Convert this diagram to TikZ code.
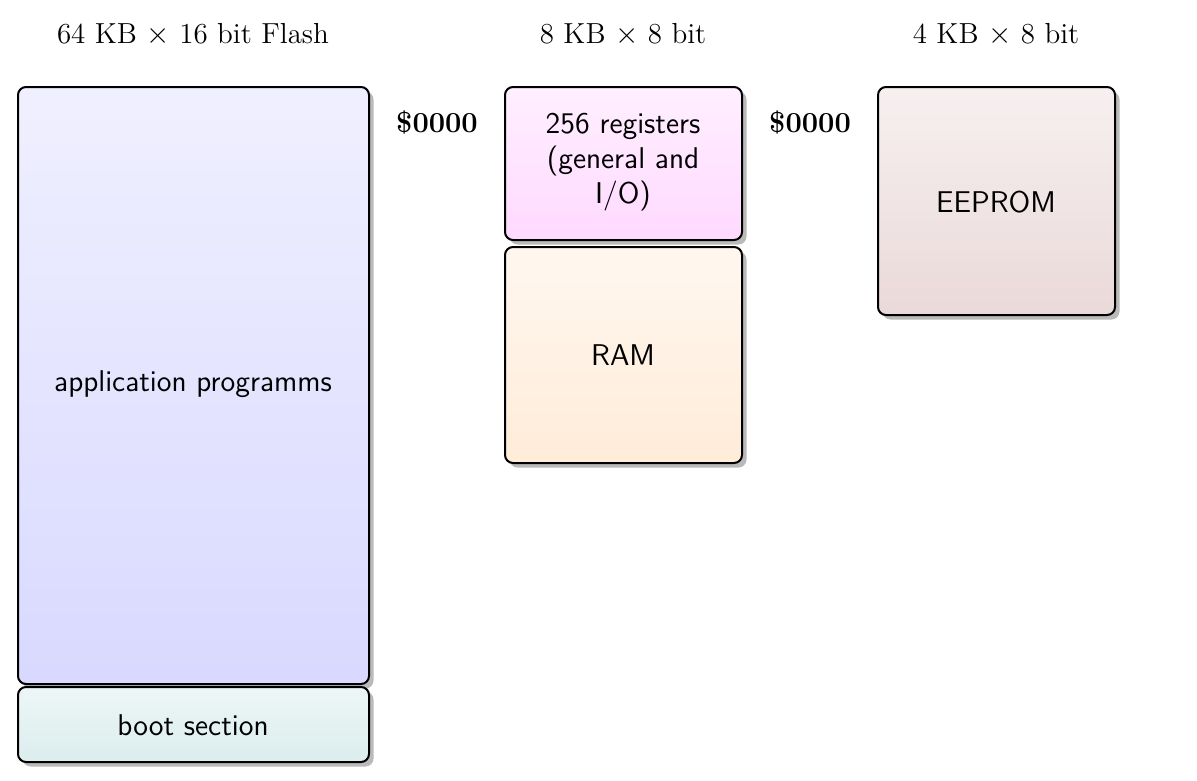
\documentclass[tikz,border=0pt]{standalone}
\usetikzlibrary{shadows}
\definecolor{eetop}{RGB}{247,240,240}
\definecolor{eebot}{RGB}{234,217,217}
\begin{document}
\begin{tikzpicture}[x=0.4pt,y=-0.4pt,
  mem/.style={draw=black, line width=0.8pt, rounded corners=3.2pt,
    drop shadow={shadow xshift=1.8pt, shadow yshift=-1.8pt, fill=black!27, opacity=1}},
  title/.style={font=\fontsize{11.6}{14}\selectfont\rmfamily},
  txt/.style={font=\fontsize{12}{14}\selectfont\sffamily},
  addr/.style={font=\fontsize{11.6}{14}\selectfont\bfseries}]
\useasboundingbox (0,0) rectangle (1197,780);
% Flash
\node[title] (t1) at (193,35) {64 KB $\times$ 16 bit Flash};
\path[mem, top color=blue!6, bottom color=blue!15] (18,87) rectangle (369,684);
\node[txt] (app) at (193,384) {application programms};
\path[mem, top color=teal!7, bottom color=teal!14] (18,687) rectangle (369,762);
\node[txt] (boot) at (193,725) {boot section};
% RAM
\node[title] (t2) at (623,35) {8 KB $\times$ 8 bit};
\node[addr] (a1) at (437,122) {\$0000};
\path[mem, top color=magenta!6, bottom color=magenta!15] (505,87) rectangle (742,240);
\node[txt, align=center] (reg) at (623,162) {256 registers\\(general and\\I/O)};
\path[mem, top color=orange!6, bottom color=orange!15] (505,247) rectangle (742,463);
\node[txt] (ram) at (623,355) {RAM};
% EEPROM
\node[title] (t3) at (996,35) {4 KB $\times$ 8 bit};
\node[addr] (a2) at (810,122) {\$0000};
\path[mem, top color=eetop, bottom color=eebot] (878,87) rectangle (1115,315);
\node[txt] (ee) at (996,202) {EEPROM};
\end{tikzpicture}
\end{document}
